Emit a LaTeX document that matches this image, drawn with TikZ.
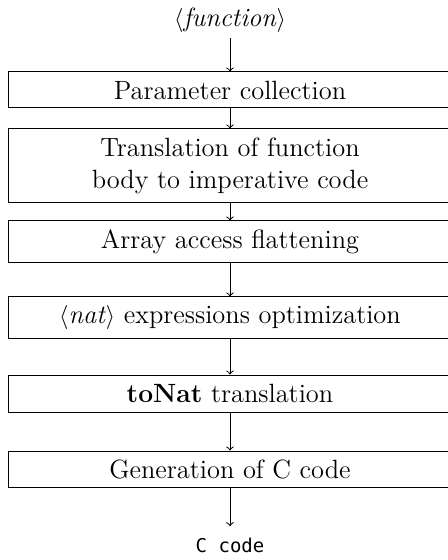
\documentclass[tikz,border=0pt]{standalone}
\usepackage{fontspec}
\newfontfamily\codefont{DejaVu Sans Mono}
\usetikzlibrary{arrows}

\begin{document}
\begin{tikzpicture}[x=0.5pt,y=-0.5pt,thick,
    every node/.style={font=\fontsize{13.2}{16}\selectfont},
    stage/.style={draw,line width=0.5pt,minimum width=222pt,inner sep=0pt,align=center},
    flow/.style={->,line width=0.5pt}]
    \useasboundingbox (0,0) rectangle (447,560);

    \node (fun) at (230,20) {$\langle$\textit{function}$\rangle$};
    \node[stage,minimum height=18pt] (param) at (230,90) {Parameter collection};
    \node[stage,minimum height=37pt] (trans) at (230,166) {Translation of function\\body to imperative code};
    \node[stage,minimum height=21pt] (flat) at (230,242) {Array access flattening};
    \node[stage,minimum height=20.5pt] (natopt) at (230,317.5) {$\langle$\textit{nat}$\rangle$ expressions optimization};
    \node[stage,minimum height=18.5pt] (tonat) at (230,393.5) {\textbf{toNat} translation};
    \node[stage,minimum height=18pt] (gen) at (230,469) {Generation of C code};
    \node (out) at (230,545) {\codefont\fontsize{9.5}{12}\selectfont C code};

    \draw[flow,shorten <=-1pt] (fun) -- (param);
    \foreach \a/\b in {param/trans,trans/flat,flat/natopt,natopt/tonat,tonat/gen}{
        \draw[flow] (\a) -- (\b);
    }
    \draw[flow,shorten >=2pt] (gen) -- (out);

\end{tikzpicture}
\end{document}
